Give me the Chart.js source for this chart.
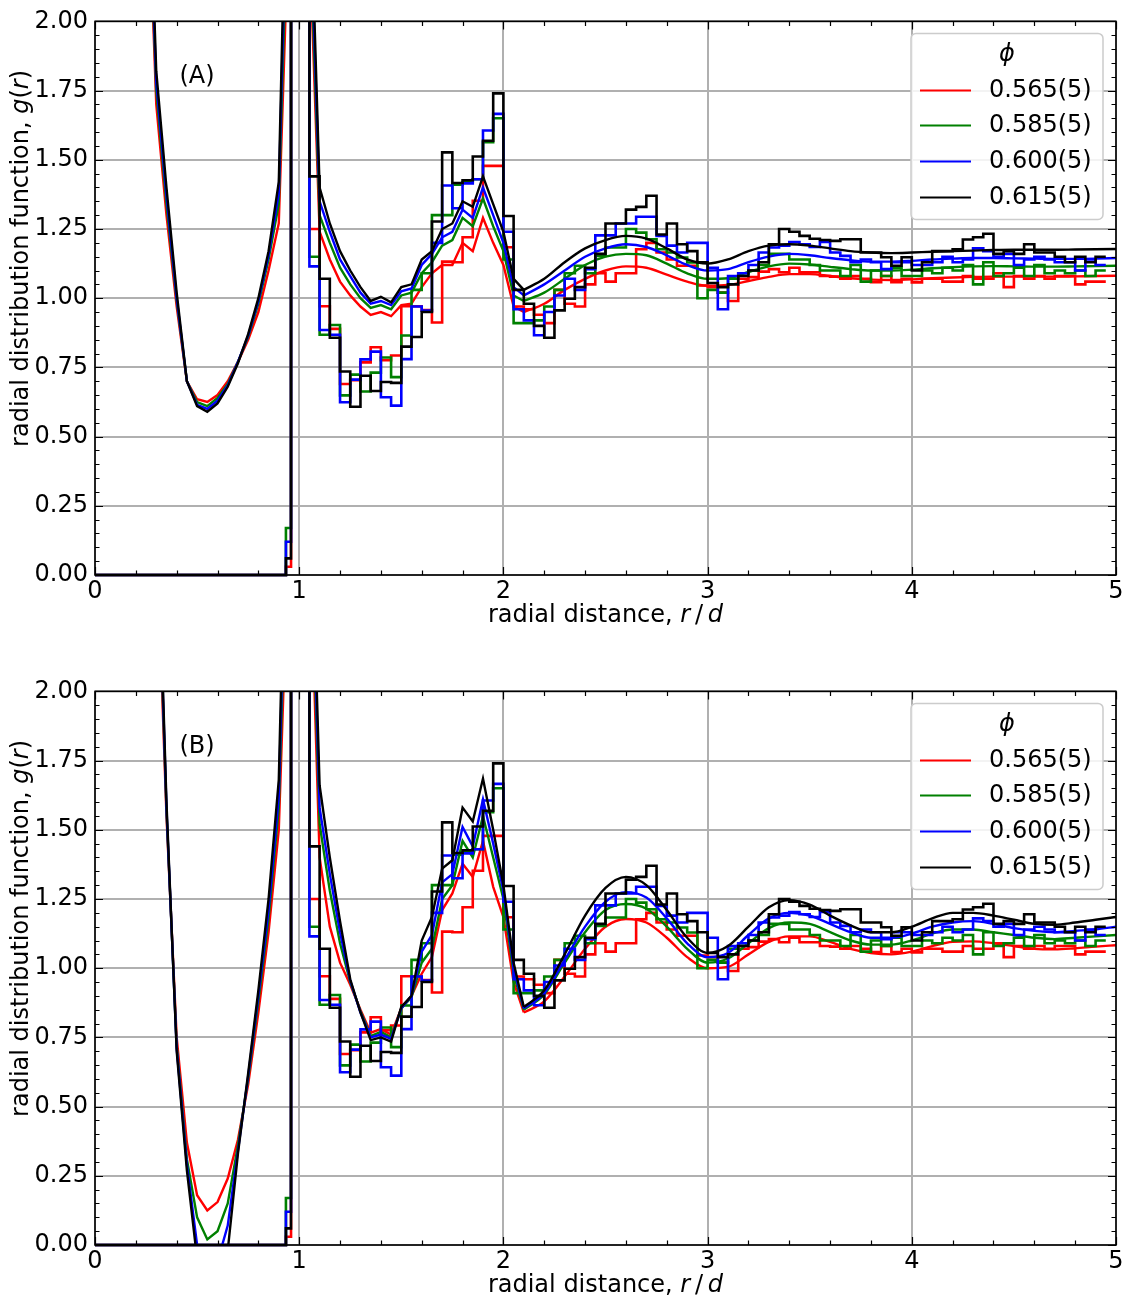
<!DOCTYPE html>
<html>
<head>
<meta charset="utf-8">
<script src="https://cdn.jsdelivr.net/npm/chart.js@4.4.1/dist/chart.umd.min.js"></script>
<style>
body{margin:0;background:#fff;}
.panel{position:absolute;left:0;width:1131px;height:640px;}
</style>
</head>
<body>
<div class="panel" style="top:0"><canvas id="chartA" width="1131" height="640"></canvas></div>
<div class="panel" style="top:670px"><canvas id="chartB" width="1131" height="640"></canvas></div>
<script>
/* legend labels */
let phiLabels = ["0.565(5)", "0.585(5)", "0.600(5)", "0.615(5)"];
let seriesColors = ["#ff0000", "#008000", "#0000ff", "#000000"];

/* histogram (experiment): left bin edges, 0.05 wide from 1.05 on */
let histLeadEdges = [0, 0.935, 0.96, 1.00];
let histRed = [0, 0.03, 3, 3,
  1.25, 0.971, 0.889, 0.69, 0.704, 0.768, 0.823, 0.776, 0.793, 0.971, 0.971, 0.957, 0.912, 1.132, 1.13, 1.22, 1.352, 1.478, 1.478,
  1.184, 0.97, 0.96, 0.94, 0.91, 1.03, 0.98, 0.97, 1.05, 1.09, 1.06, 1.09, 1.09, 1.177, 1.20, 1.165, 1.14, 1.117, 1.117, 1.046,
  1.04, 1.02, 0.99, 1.07, 1.076, 1.096, 1.105, 1.094, 1.11, 1.094, 1.094, 1.08, 1.078, 1.07, 1.08, 1.07, 1.058, 1.08, 1.058, 1.07,
  1.057, 1.07, 1.07, 1.06, 1.06, 1.08, 1.07, 1.07, 1.09, 1.04, 1.08, 1.07, 1.08, 1.07, 1.08, 1.08, 1.05, 1.06, 1.06];
let histGreen = [0, 0.17, 3, 3,
  1.15, 0.868, 0.903, 0.649, 0.724, 0.663, 0.731, 0.786, 0.715, 0.865, 1.03, 1.09, 1.30, 1.30, 1.41, 1.42, 1.43, 1.564, 1.65,
  1.14, 0.91, 0.91, 0.92, 0.97, 1.03, 1.09, 1.117, 1.09, 1.153, 1.183, 1.183, 1.25, 1.237, 1.213, 1.177, 1.165, 1.147, 1.129, 1.0,
  1.03, 1.02, 1.07, 1.09, 1.10, 1.12, 1.16, 1.16, 1.14, 1.14, 1.12, 1.10, 1.10, 1.08, 1.12, 1.06, 1.10, 1.08, 1.11, 1.08,
  1.08, 1.10, 1.09, 1.11, 1.10, 1.12, 1.05, 1.13, 1.08, 1.09, 1.11, 1.08, 1.12, 1.09, 1.10, 1.09, 1.10, 1.08, 1.10];
let histBlue = [0, 0.12, 3, 3,
  1.115, 0.885, 0.868, 0.624, 0.706, 0.779, 0.807, 0.642, 0.612, 0.78, 0.97, 0.955, 1.20, 1.407, 1.325, 1.415, 1.43, 1.606, 1.666,
  1.24, 0.96, 0.92, 0.866, 0.95, 1.01, 1.07, 1.03, 1.105, 1.227, 1.227, 1.27, 1.27, 1.294, 1.294, 1.225, 1.19, 1.165, 1.20, 1.20,
  1.11, 0.96, 1.08, 1.09, 1.12, 1.165, 1.183, 1.19, 1.203, 1.195, 1.185, 1.203, 1.165, 1.153, 1.13, 1.14, 1.13, 1.105, 1.13, 1.13,
  1.12, 1.12, 1.13, 1.15, 1.13, 1.14, 1.18, 1.17, 1.15, 1.16, 1.12, 1.14, 1.15, 1.14, 1.13, 1.13, 1.10, 1.14, 1.12];
let histBlack = [0, 0.06, 3, 3,
  1.44, 1.07, 0.857, 0.735, 0.608, 0.72, 0.665, 0.697, 0.694, 0.825, 0.86, 0.95, 1.277, 1.527, 1.416, 1.426, 1.512, 1.569, 1.74,
  1.297, 1.03, 0.98, 0.90, 0.857, 0.956, 0.998, 1.04, 1.11, 1.16, 1.27, 1.27, 1.32, 1.33, 1.37, 1.23, 1.27, 1.195, 1.17, 1.13,
  1.055, 1.04, 1.05, 1.08, 1.10, 1.13, 1.195, 1.25, 1.24, 1.225, 1.215, 1.21, 1.207, 1.213, 1.213, 1.165, 1.165, 1.148, 1.117, 1.148,
  1.10, 1.13, 1.17, 1.17, 1.177, 1.212, 1.22, 1.233, 1.16, 1.17, 1.16, 1.195, 1.165, 1.165, 1.15, 1.13, 1.15, 1.13, 1.15];

/* theory curves: coarse part (straight segments) and far part (smooth) */
let rNear = [0.25, 0.30, 0.35, 0.40, 0.45, 0.50, 0.55, 0.60, 0.65, 0.70, 0.75, 0.80, 0.85, 0.90, 0.95, 1.00,
  1.05, 1.10, 1.15, 1.20, 1.25, 1.30, 1.35, 1.40, 1.45, 1.50, 1.55, 1.60, 1.65, 1.70, 1.75, 1.80, 1.85, 1.90, 1.95, 2.00, 2.05, 2.10];
let rFar = [2.1, 2.2, 2.3, 2.4, 2.5, 2.6, 2.7, 2.8, 2.9, 3.0, 3.1, 3.2, 3.3, 3.4, 3.5, 3.6, 3.7, 3.8, 3.9, 4.0,
  4.1, 4.2, 4.3, 4.4, 4.5, 4.6, 4.7, 4.8, 4.9, 5.0];

/* panel (A) */
let aNearRed = [2.7, 1.7, 1.30, 0.97, 0.70, 0.635, 0.625, 0.65, 0.70, 0.77, 0.85, 0.95, 1.10, 1.27, 2.4, 5,
  2.3, 1.24, 1.14, 1.06, 1.01, 0.97, 0.94, 0.95, 0.935, 0.975, 0.98, 1.04, 1.09, 1.12, 1.12, 1.20, 1.17, 1.29, 1.20, 1.12, 0.97, 0.95];
let aNearGreen = [2.75, 1.75, 1.34, 0.99, 0.70, 0.625, 0.61, 0.64, 0.69, 0.77, 0.86, 0.98, 1.14, 1.34, 2.6, 5,
  2.4, 1.30, 1.20, 1.11, 1.05, 1.0, 0.965, 0.975, 0.96, 1.01, 1.02, 1.09, 1.13, 1.19, 1.21, 1.29, 1.26, 1.36, 1.26, 1.17, 1.01, 0.99];
let aNearBlue = [2.8, 1.78, 1.37, 1.0, 0.70, 0.615, 0.60, 0.63, 0.685, 0.77, 0.865, 0.99, 1.155, 1.38, 2.8, 5,
  2.5, 1.35, 1.24, 1.14, 1.08, 1.02, 0.98, 0.99, 0.975, 1.025, 1.035, 1.12, 1.16, 1.22, 1.24, 1.32, 1.29, 1.40, 1.30, 1.20, 1.04, 1.01];
let aNearBlack = [2.9, 1.82, 1.40, 1.02, 0.70, 0.61, 0.59, 0.62, 0.68, 0.765, 0.87, 1.0, 1.17, 1.42, 3.0, 5,
  2.6, 1.40, 1.27, 1.17, 1.10, 1.04, 0.99, 1.005, 0.985, 1.04, 1.05, 1.14, 1.17, 1.25, 1.27, 1.35, 1.33, 1.44, 1.34, 1.24, 1.07, 1.03];
let aFarRed = [0.95, 0.98, 1.03, 1.07, 1.10, 1.115, 1.11, 1.085, 1.06, 1.045, 1.048, 1.062, 1.077, 1.087, 1.087, 1.08, 1.072, 1.067, 1.066, 1.068,
  1.072, 1.075, 1.077, 1.078, 1.078, 1.078, 1.078, 1.079, 1.08, 1.081];
let aFarGreen = [0.99, 1.02, 1.07, 1.12, 1.15, 1.16, 1.155, 1.125, 1.09, 1.07, 1.072, 1.095, 1.115, 1.125, 1.122, 1.113, 1.105, 1.10, 1.10, 1.103,
  1.108, 1.112, 1.115, 1.116, 1.115, 1.114, 1.114, 1.115, 1.116, 1.117];
let aFarBlue = [1.01, 1.05, 1.10, 1.15, 1.18, 1.195, 1.185, 1.155, 1.12, 1.10, 1.105, 1.13, 1.15, 1.16, 1.155, 1.145, 1.137, 1.132, 1.132, 1.135,
  1.14, 1.143, 1.145, 1.145, 1.144, 1.143, 1.142, 1.142, 1.143, 1.145];
let aFarBlack = [1.03, 1.07, 1.13, 1.18, 1.21, 1.225, 1.215, 1.18, 1.14, 1.125, 1.14, 1.17, 1.19, 1.195, 1.19, 1.18, 1.17, 1.165, 1.163, 1.165,
  1.168, 1.17, 1.172, 1.174, 1.175, 1.175, 1.175, 1.176, 1.177, 1.178];

/* panel (B) */
let bNearRed = [4.0, 2.6, 1.55, 0.75, 0.37, 0.18, 0.125, 0.155, 0.24, 0.38, 0.58, 0.84, 1.13, 1.50, 2.6, 5,
  2.6, 1.40, 1.15, 1.02, 0.94, 0.85, 0.767, 0.78, 0.76, 0.856, 0.90, 0.98, 1.04, 1.21, 1.27, 1.377, 1.33, 1.46, 1.294, 1.185, 0.95, 0.84];
let bNearGreen = [4.2, 2.7, 1.57, 0.72, 0.31, 0.10, 0.02, 0.05, 0.15, 0.36, 0.60, 0.88, 1.18, 1.58, 2.8, 5,
  2.7, 1.52, 1.28, 1.09, 0.95, 0.845, 0.755, 0.77, 0.75, 0.855, 0.895, 1.02, 1.07, 1.25, 1.30, 1.46, 1.40, 1.55, 1.40, 1.25, 0.98, 0.85];
let bNearBlue = [4.3, 2.75, 1.58, 0.71, 0.29, 0.0, -0.12, -0.06, 0.07, 0.34, 0.61, 0.90, 1.21, 1.62, 3.0, 5,
  2.8, 1.58, 1.34, 1.13, 0.955, 0.84, 0.75, 0.76, 0.745, 0.855, 0.90, 1.06, 1.12, 1.31, 1.34, 1.51, 1.44, 1.61, 1.45, 1.28, 1.0, 0.855];
let bNearBlack = [4.4, 2.8, 1.6, 0.70, 0.27, -0.05, -0.25, -0.2, -0.02, 0.33, 0.62, 0.92, 1.25, 1.68, 3.2, 5,
  2.9, 1.66, 1.40, 1.17, 0.96, 0.84, 0.74, 0.75, 0.735, 0.86, 0.90, 1.10, 1.185, 1.36, 1.39, 1.58, 1.53, 1.685, 1.50, 1.30, 1.02, 0.86];
let bFarRed = [0.84, 0.88, 0.97, 1.07, 1.15, 1.178, 1.165, 1.11, 1.04, 1.0, 1.005, 1.05, 1.095, 1.115, 1.115, 1.095, 1.07, 1.055, 1.05, 1.06,
  1.08, 1.095, 1.097, 1.09, 1.08, 1.07, 1.068, 1.072, 1.078, 1.083];
let bFarGreen = [0.85, 0.905, 1.02, 1.13, 1.21, 1.232, 1.215, 1.15, 1.07, 1.02, 1.035, 1.09, 1.145, 1.165, 1.16, 1.13, 1.10, 1.085, 1.085, 1.10,
  1.125, 1.14, 1.14, 1.13, 1.12, 1.11, 1.105, 1.11, 1.115, 1.12];
let bFarBlue = [0.855, 0.91, 1.03, 1.15, 1.24, 1.275, 1.255, 1.18, 1.09, 1.04, 1.055, 1.12, 1.18, 1.20, 1.19, 1.16, 1.13, 1.11, 1.11, 1.125,
  1.15, 1.165, 1.17, 1.16, 1.145, 1.135, 1.13, 1.135, 1.14, 1.15];
let bFarBlack = [0.86, 0.92, 1.05, 1.19, 1.29, 1.33, 1.30, 1.21, 1.11, 1.055, 1.08, 1.15, 1.22, 1.246, 1.23, 1.19, 1.155, 1.13, 1.13, 1.15,
  1.18, 1.20, 1.20, 1.19, 1.175, 1.16, 1.157, 1.165, 1.175, 1.185];

const FONT = "'DejaVu Sans'";
const FS = 24;

/* histogram edges */
function histEdges(n){
    let edges = histLeadEdges.slice();
    for(let i=0; edges.length<n; i++) edges.push(Math.round((1.05 + i*0.05)*1000)/1000);
    edges.push(Math.round((edges[edges.length-1] + 0.05)*1000)/1000);
    return edges;
}

function toPoints(xs, ys){
    return xs.map((x,i)=>({x:x, y:ys[i]}));
}

function histPoints(vals){
    let edges = histEdges(vals.length);
    let ys = vals.concat([vals[vals.length-1]]);
    return toPoints(edges, ys);
}

/* mixed regular / italic text */
function drawRuns(ctx, runs, cx, cy){
    let w = 0;
    runs.forEach(r=>{ ctx.font = r.f; w += ctx.measureText(r.t).width; });
    let x = cx - w/2;
    ctx.textAlign = "left";
    ctx.textBaseline = "middle";
    runs.forEach(r=>{ ctx.font = r.f; ctx.fillText(r.t, x, cy); x += ctx.measureText(r.t).width; });
}

/* frame, inward ticks, titles, panel label and legend */
const decor = {
    id: "decor",
    afterDraw(chart, args, opts){
        const {ctx, chartArea: a, scales: {x, y}} = chart;
        ctx.save();
        ctx.strokeStyle = "#000";
        ctx.lineWidth = 1.2;
        ctx.beginPath();
        for(let i=0;i<=25;i++){
            let px = Math.round(x.getPixelForValue(i*0.2)) + 0.5;
            let len = (i%5===0) ? 8 : 4.5;
            ctx.moveTo(px, a.bottom); ctx.lineTo(px, a.bottom-len);
            ctx.moveTo(px, a.top); ctx.lineTo(px, a.top+len);
        }
        for(let j=0;j<=40;j++){
            let py = Math.round(y.getPixelForValue(j*0.05)) + 0.5;
            let len = (j%5===0) ? 8 : 4.5;
            ctx.moveTo(a.left, py); ctx.lineTo(a.left+len, py);
            ctx.moveTo(a.right, py); ctx.lineTo(a.right-len, py);
        }
        ctx.stroke();
        ctx.lineWidth = 1.6;
        ctx.strokeRect(a.left, a.top, a.right-a.left, a.bottom-a.top);

        const reg = FS + "px " + FONT, ita = "italic " + FS + "px " + FONT;
        ctx.fillStyle = "#000";
        drawRuns(ctx, [{t:"radial distance, ",f:reg},{t:"r",f:ita},{t:"\u2009/\u2009",f:reg},{t:"d",f:ita}],
            (a.left+a.right)/2, a.bottom+41);

        ctx.save();
        ctx.translate(22, a.top+237);
        ctx.rotate(-Math.PI/2);
        drawRuns(ctx, [{t:"radial distribution function, ",f:reg},{t:"g",f:ita},{t:"(",f:reg},{t:"r",f:ita},{t:")",f:reg}], 0, 0);
        ctx.restore();

        ctx.font = reg;
        ctx.textAlign = "center";
        ctx.textBaseline = "middle";
        ctx.fillText(opts.label, 197, a.top+55);

        // legend box
        let lx = a.right-205, ly = a.top+12, lw = 192, lh = 186;
        ctx.beginPath();
        ctx.roundRect(lx, ly, lw, lh, 5);
        ctx.fillStyle = "rgba(255,255,255,0.85)";
        ctx.fill();
        ctx.strokeStyle = "#cccccc";
        ctx.lineWidth = 1.5;
        ctx.stroke();
        ctx.fillStyle = "#000";
        ctx.font = ita;
        ctx.fillText("\u03D5", lx+lw/2, ly+21);
        let rows = [57, 92, 128, 164];
        phiLabels.forEach((lab,i)=>{
            ctx.strokeStyle = seriesColors[i];
            ctx.lineWidth = 2;
            ctx.beginPath();
            ctx.moveTo(lx+9, ly+rows[i]); ctx.lineTo(lx+60, ly+rows[i]);
            ctx.stroke();
            ctx.font = reg;
            ctx.textAlign = "left";
            ctx.fillStyle = "#000";
            ctx.fillText(lab, lx+78, ly+rows[i]);
        });
        ctx.restore();
    }
};

function makeChart(id, label, near, far){
    let datasets = [];
    let hists = [histRed, histGreen, histBlue, histBlack];
    for(let i=0;i<4;i++){
        let z = 8 - i*2;
        datasets.push({
            data: histPoints(hists[i]), borderColor: seriesColors[i], borderWidth: 2.6,
            stepped: "before", pointRadius: 0, fill: false, order: z,
            clip: {left:0, top:0, right:0, bottom:3}
        });
        datasets.push({
            data: toPoints(rNear, near[i]), borderColor: seriesColors[i], borderWidth: 2.4,
            tension: 0, pointRadius: 0, fill: false, order: z-1, clip: 0
        });
        datasets.push({
            data: toPoints(rFar, far[i]), borderColor: seriesColors[i], borderWidth: 2.4,
            cubicInterpolationMode: "monotone", pointRadius: 0, fill: false, order: z-1, clip: 0
        });
    }
    return new Chart(document.getElementById(id), {
        type: "line",
        data: {datasets: datasets},
        plugins: [decor],
        options: {
            responsive: false,
            animation: false,
            events: [],
            layout: {padding: {top:17, right:15, left:0, bottom:0}},
            plugins: {legend:{display:false}, tooltip:{enabled:false}, decor:{label:label}},
            scales: {
                x: {
                    type: "linear", min: 0, max: 5,
                    afterFit: s => { s.height = 65; },
                    ticks: {stepSize: 1, color: "#000", padding: 2, font: {family: "DejaVu Sans", size: FS}},
                    grid: {color: "#b0b0b0", lineWidth: 2, drawTicks: false},
                    border: {display: false}
                },
                y: {
                    type: "linear", min: 0, max: 2,
                    afterFit: s => { s.width = 95; },
                    ticks: {stepSize: 0.25, color: "#000", padding: 7, font: {family: "DejaVu Sans", size: FS},
                        callback: v => v.toFixed(2)},
                    grid: {color: "#b0b0b0", lineWidth: 2, drawTicks: false},
                    border: {display: false}
                }
            }
        }
    });
}

makeChart("chartA", "(A)",
    [aNearRed, aNearGreen, aNearBlue, aNearBlack],
    [aFarRed, aFarGreen, aFarBlue, aFarBlack]);
makeChart("chartB", "(B)",
    [bNearRed, bNearGreen, bNearBlue, bNearBlack],
    [bFarRed, bFarGreen, bFarBlue, bFarBlack]);
</script>
</body>
</html>
